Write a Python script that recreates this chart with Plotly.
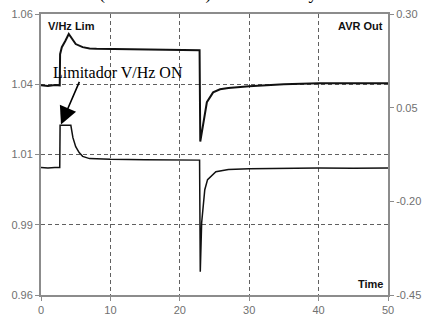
import plotly.graph_objects as go

# V/Hz limiter signal (left axis)
t_vhz = [0, 1, 2, 2.7, 2.75, 3.0, 3.5, 4.0, 4.5, 5.0, 6.0, 7.0, 8, 10, 12, 15, 18, 20, 22.85,
         22.95, 23.4, 23.9, 24.8, 25.8, 27, 30, 35, 40, 45, 50]
v_vhz = [1.0346, 1.0344, 1.0347, 1.0346, 1.0457, 1.0482, 1.0504, 1.0529, 1.0511, 1.0493, 1.0482,
         1.0477, 1.0476, 1.0475, 1.0474, 1.0473, 1.0472, 1.0471, 1.0471,
         1.0146, 1.0214, 1.0286, 1.0321, 1.0332, 1.0337, 1.0343, 1.0350, 1.0354, 1.0354, 1.0354]

# AVR output signal (right axis)
t_avr = [0, 1, 2, 2.7, 2.75, 4.3, 4.6, 5.0, 5.5, 6.0, 7.0, 10, 15, 20, 22.85,
         22.95, 23.15, 23.6, 24.0, 25.2, 27, 30, 35, 40, 45, 50]
v_avr = [-0.110, -0.111, -0.110, -0.110, 0.003, 0.003, -0.030, -0.054, -0.070, -0.080, -0.086,
         -0.088, -0.089, -0.090, -0.090,
         -0.388, -0.257, -0.169, -0.142, -0.121, -0.115, -0.113, -0.112, -0.111, -0.112, -0.111]

x_ticks = [0, 10, 20, 30, 40, 50]
left_ticks = [0.96, 0.985, 1.01, 1.035, 1.06]
left_labels = ["0.96", "0.99", "1.01", "1.04", "1.06"]
right_ticks = [-0.45, -0.20, 0.05, 0.30]
right_labels = ["-0.45", "-0.20", "0.05", "0.30"]

fig = go.Figure()
fig.add_trace(go.Scatter(x=t_vhz, y=v_vhz, mode="lines", line=dict(color="#111", width=2),
                         yaxis="y", showlegend=False))
fig.add_trace(go.Scatter(x=t_avr, y=v_avr, mode="lines", line=dict(color="#111", width=1.5),
                         yaxis="y2", showlegend=False))

axis_col = "#8c8c8c"
tick_font = dict(family="Arial, Liberation Sans, sans-serif", size=11, color="#707070")

fig.update_layout(
    width=424, height=322,
    margin=dict(l=41, r=36, t=14, b=27),
    paper_bgcolor="white", plot_bgcolor="white",
    xaxis=dict(range=[0, 50], tickvals=x_ticks, ticks="outside", ticklen=4, tickcolor=axis_col,
               showline=True, linecolor=axis_col, linewidth=2, mirror=True,
               showgrid=True, gridcolor="#606060", gridwidth=1, griddash="4px,3px",
               zeroline=False, tickfont=tick_font, automargin=False),
    yaxis=dict(range=[0.96, 1.06], tickvals=left_ticks, ticktext=left_labels,
               ticks="outside", ticklen=4, tickcolor=axis_col,
               showline=True, linecolor=axis_col, linewidth=2,
               showgrid=True, gridcolor="#606060", gridwidth=1, griddash="4px,3px",
               zeroline=False, tickfont=tick_font, automargin=False),
    yaxis2=dict(range=[-0.45, 0.30], tickvals=right_ticks, ticktext=right_labels,
                overlaying="y", side="right", ticks="outside", ticklen=4, tickcolor=axis_col,
                showline=True, linecolor=axis_col, linewidth=2, showgrid=False,
                zeroline=False, tickfont=tick_font, automargin=False),
)

bold = dict(family="Arial, Liberation Sans, sans-serif", size=11, color="#111")
fig.add_annotation(text="<b>V/Hz Lim</b>", xref="paper", yref="paper", x=0.015, y=0.985,
                   xanchor="left", yanchor="top", showarrow=False, font=bold)
fig.add_annotation(text="<b>AVR Out</b>", xref="paper", yref="paper", x=0.99, y=0.985,
                   xanchor="right", yanchor="top", showarrow=False, font=bold)
fig.add_annotation(text="<b>Time</b>", xref="paper", yref="paper", x=0.99, y=0.01,
                   xanchor="right", yanchor="bottom", showarrow=False, font=bold)

fig.add_annotation(text="Limitador V/Hz ON", xref="paper", yref="paper",
                   x=(51 - 41) / 347, y=(295 - 72) / 281, xanchor="left", yanchor="middle",
                   showarrow=False,
                   font=dict(family="Liberation Serif, Times New Roman, serif", size=16, color="#000"))
fig.add_annotation(text="", x=2.88, y=1.0207, xref="x", yref="y",
                   showarrow=True, ax=19, ay=-44, arrowhead=2, arrowsize=2.2, arrowwidth=1.6,
                   arrowcolor="#000")

# cut-off caption fragment at very top
fig.add_annotation(text="(Medición real) de la unidad y", xref="paper", yref="paper",
                   x=(97 - 41) / 347, y=1, xanchor="left", yanchor="bottom", yshift=8,
                   showarrow=False,
                   font=dict(family="Liberation Serif, Times New Roman, serif", size=18, color="#000"))

fig.write_html("out.html")
